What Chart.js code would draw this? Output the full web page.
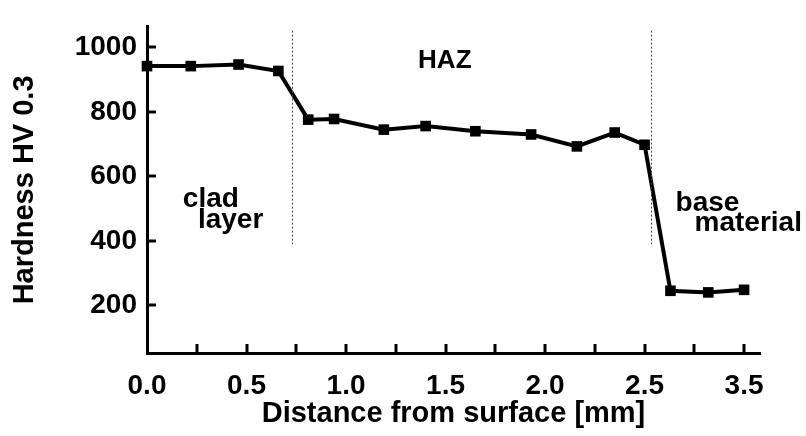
<!DOCTYPE html>
<html>
<head>
<meta charset="utf-8">
<script src="https://cdn.jsdelivr.net/npm/chart.js@4/dist/chart.umd.min.js"></script>
<style>
  html, body { margin: 0; padding: 0; background: #fff; }
  #wrap { width: 806px; height: 436px; position: relative; }
</style>
</head>
<body>
<div id="wrap"><canvas id="chart"></canvas></div>
<script>
// values
const distance = [0.0, 0.22, 0.46, 0.66, 0.81, 0.94, 1.19, 1.40, 1.65, 1.93, 2.16, 2.35, 2.50, 2.63, 2.82, 3.0];
const hardness = [942, 942, 947, 927, 776, 778, 745, 756, 740, 730, 693, 736, 698, 245, 240, 248];

const yTickValues = [200, 400, 600, 800, 1000];
const xTickValues = [0, 0.25, 0.5, 0.75, 1, 1.25, 1.5, 1.75, 2, 2.25, 2.5, 2.75, 3];
// the original figure labels the last major tick "3.5"
const xTickLabels = ['0.0', '', '0.5', '', '1.0', '', '1.5', '', '2.0', '', '2.5', '', '3.5'];

// zone boundaries (dotted lines) and zone names
const zoneEdges = [0.73, 2.53];
const zoneLabels = [
  { lines: ['clad', 'layer'], x: [0.18, 0.256], y: [506, 440] },
  { lines: ['HAZ'], x: [1.362], y: [936] },
  { lines: ['base', 'material'], x: [2.656, 2.751], y: [494, 429] }
];

const FONT = '"Liberation Sans", Arial, sans-serif';

// inward tick marks, dotted zone lines, zone text
const extras = {
  id: 'extras',
  afterDraw(chart) {
    const { ctx, chartArea, scales } = chart;
    const xs = scales.x, ys = scales.y;
    ctx.save();
    ctx.strokeStyle = '#000';
    ctx.lineWidth = 3;
    ctx.beginPath();
    xTickValues.forEach(v => {
      if (v === 0) return;
      const px = Math.round(xs.getPixelForValue(v));
      ctx.moveTo(px, chartArea.bottom);
      ctx.lineTo(px, chartArea.bottom - 9);
    });
    yTickValues.forEach(v => {
      const py = Math.round(ys.getPixelForValue(v));
      ctx.moveTo(chartArea.left, py);
      ctx.lineTo(chartArea.left + 9, py);
    });
    ctx.stroke();

    ctx.lineWidth = 1;
    ctx.strokeStyle = '#444';
    ctx.setLineDash([2, 2]);
    ctx.beginPath();
    zoneEdges.forEach(v => {
      const px = Math.round(xs.getPixelForValue(v)) + 0.5;
      ctx.moveTo(px, ys.getPixelForValue(1052));
      ctx.lineTo(px, ys.getPixelForValue(390));
    });
    ctx.stroke();
    ctx.setLineDash([]);

    ctx.fillStyle = '#000';
    ctx.textAlign = 'left';
    ctx.textBaseline = 'alphabetic';
    zoneLabels.forEach(z => {
      ctx.font = 'bold ' + (z.lines[0] === 'HAZ' ? 26 : 28) + 'px ' + FONT;
      z.lines.forEach((t, i) => {
        ctx.fillText(t, xs.getPixelForValue(z.x[i]), ys.getPixelForValue(z.y[i]));
      });
    });
    ctx.restore();
  }
};

new Chart(document.getElementById('chart'), {
  type: 'line',
  data: {
    datasets: [{
      data: distance.map((d, i) => ({ x: d, y: hardness[i] })),
      borderColor: '#000',
      borderWidth: 4,
      backgroundColor: '#000',
      pointStyle: 'rect',
      pointRadius: 7.5,
      pointBorderWidth: 0,
      tension: 0,
      clip: false
    }]
  },
  options: {
    responsive: true,
    maintainAspectRatio: false,
    animation: false,
    layout: { padding: { left: 0, top: 14, right: 46, bottom: 0 } },
    plugins: { legend: { display: false }, tooltip: { enabled: false } },
    scales: {
      x: {
        type: 'linear',
        min: 0,
        max: 3.08,
        afterBuildTicks: s => { s.ticks = xTickValues.map(v => ({ value: v })); },
        afterFit: s => { s.height = 83; },
        grid: { display: false, drawTicks: false },
        border: { display: true, color: '#000', width: 3 },
        ticks: {
          autoSkip: false,
          maxRotation: 0,
          padding: 16,
          color: '#000',
          font: { family: FONT, size: 28, weight: 'bold' },
          callback: (v, i) => xTickLabels[i]
        },
        title: {
          display: true,
          text: 'Distance from surface [mm]',
          color: '#000',
          font: { family: FONT, size: 29, weight: 'bold' },
          padding: { top: 0, bottom: 5 }
        }
      },
      y: {
        min: 52,
        max: 1064,
        afterBuildTicks: s => { s.ticks = yTickValues.map(v => ({ value: v })); },
        afterFit: s => { s.width = 147; },
        grid: { display: false, drawTicks: false },
        border: { display: true, color: '#000', width: 3 },
        ticks: {
          padding: 10,
          color: '#000',
          font: { family: FONT, size: 28, weight: 'bold' },
          callback: v => String(v)
        },
        title: {
          display: true,
          text: 'Hardness HV 0.3',
          color: '#000',
          font: { family: FONT, size: 29, weight: 'bold' },
          padding: { top: 8, bottom: 0 }
        }
      }
    }
  },
  plugins: [extras]
});
</script>
</body>
</html>
